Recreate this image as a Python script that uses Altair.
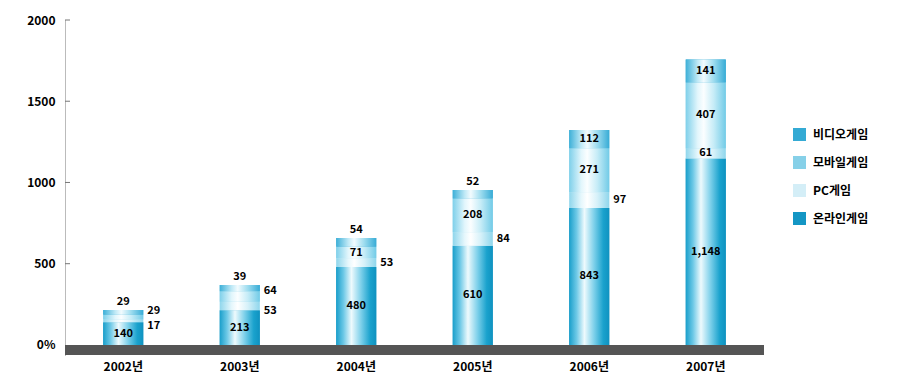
import altair as alt
import pandas as pd

years = ["2002년", "2003년", "2004년", "2005년", "2006년", "2007년"]
series = ["온라인게임", "PC게임", "모바일게임", "비디오게임"]  # bottom -> top
online = [140, 213, 480, 610, 843, 1148]
pc = [17, 53, 53, 84, 97, 61]
mobile = [29, 64, 71, 208, 271, 407]
video = [29, 39, 54, 52, 112, 141]
y_ticks = [0, 500, 1000, 1500, 2000]
legend_order = ["비디오게임", "모바일게임", "PC게임", "온라인게임"]
legend_colors = ["#34aad4", "#86d0e8", "#d4eef7", "#1496c4"]

# label placement style per series and year
placement = {
    "온라인게임": ["in", "in", "in", "in", "in", "in"],
    "PC게임": ["rlow", "rlow", "right", "right", "right", "in"],
    "모바일게임": ["rhigh", "rhigh", "in", "in", "in", "in"],
    "비디오게임": ["top", "top", "top", "top", "in", "in"],
}

vals = {"온라인게임": online, "PC게임": pc, "모바일게임": mobile, "비디오게임": video}
rows = []
for i, yr in enumerate(years):
    cum = 0
    for s in series:
        v = vals[s][i]
        rows.append(dict(year=yr, series=s, value=v, y0=cum, y1=cum + v,
                         mid=cum + v / 2, label=f"{v:,}", pos=placement[s][i]))
        cum += v
df = pd.DataFrame(rows)

FONT = "Noto Sans CJK KR"
yscale = alt.Scale(domain=[-62, 2000], nice=False, zero=False)
xscale = alt.Scale(paddingInner=0, paddingOuter=0)

base = alt.Chart(df)

ground = alt.Chart(pd.DataFrame({"a": [0]})).mark_rect(color="#555555").encode(
    x=alt.value(0), x2=alt.value(699),
    y=alt.Y(datum=0, scale=yscale), y2=alt.Y2(datum=-62))

solid = base.mark_bar(size=40).encode(
    x=alt.X("year:N", scale=xscale, sort=years,
            axis=alt.Axis(title=None, labelAngle=0, domain=False, ticks=False,
                          labelFont=FONT, labelFontSize=12, labelFontWeight="bold",
                          labelColor="#000", labelPadding=6)),
    y=alt.Y("y0:Q", scale=yscale,
            axis=alt.Axis(title=None, values=y_ticks, grid=False, ticks=False,
                          labelExpr="datum.value == 0 ? '0%' : datum.value",
                          labelFont=FONT, labelFontSize=12, labelFontWeight="bold",
                          labelColor="#000", labelPadding=10, domainColor="#777",
                          domainDash=[1, 1])),
    y2="y1:Q",
    color=alt.Color("series:N", scale=alt.Scale(domain=legend_order, range=legend_colors),
                    legend=alt.Legend(title=None, orient="none", legendX=728, legendY=108,
                                      symbolType="square", symbolSize=169,
                                      symbolStrokeWidth=0, labelFont=FONT,
                                      labelFontSize=12, labelFontWeight="bold",
                                      labelColor="#000", rowPadding=15, labelOffset=7)),
)

grads = {
    "온라인게임": [("#1a9fcb", 0), ("#6cc8e6", 0.18), ("#eefafd", 0.38), ("#7dd0ea", 0.62), ("#1aa2cd", 0.85), ("#0f92c0", 1)],
    "PC게임": [("#8fd6ec", 0), ("#e6f7fc", 0.3), ("#ffffff", 0.45), ("#d6f1f9", 0.7), ("#8fd6ec", 1)],
    "모바일게임": [("#7fd0ea", 0), ("#e2f6fc", 0.3), ("#fbfeff", 0.45), ("#c6ecf7", 0.7), ("#72cbe7", 1)],
    "비디오게임": [("#3eb0d8", 0), ("#bfe9f6", 0.3), ("#f2fbfe", 0.45), ("#9ddcef", 0.7), ("#38acd6", 1)],
}
grad_layers = []
for s in series:
    g = alt.Gradient(gradient="linear", x1=0, x2=1, y1=0, y2=0,
                     stops=[alt.GradientStop(color=c, offset=o) for c, o in grads[s]])
    grad_layers.append(
        base.transform_filter(alt.datum.series == s).mark_bar(size=40, color=g).encode(
            x=alt.X("year:N", sort=years, scale=xscale),
            y=alt.Y("y0:Q", scale=yscale), y2="y1:Q"))

ticks = alt.Chart(pd.DataFrame({"t": y_ticks[1:]})).mark_rule(color="#777").encode(
    x=alt.value(0), x2=alt.value(5), y=alt.Y("t:Q", scale=yscale))

def txt(pos, **kw):
    return base.transform_filter(alt.datum.pos == pos).mark_text(
        font=FONT, fontSize=11, fontWeight="bold", color="#000", **kw).encode(
        x=alt.X("year:N", sort=years, scale=xscale),
        y=alt.Y(("y1:Q" if pos == "top" else "mid:Q"), scale=yscale),
        text="label:N")

texts = [
    txt("in", align="center", baseline="middle"),
    txt("top", align="center", baseline="bottom", dy=-3),
    txt("right", align="left", baseline="middle", dx=24),
    txt("rlow", align="left", baseline="middle", dx=24, dy=5),
    txt("rhigh", align="left", baseline="middle", dx=24, dy=-6),
]

chart = alt.layer(solid, *grad_layers, ground, ticks, *texts).properties(
    width=699, height=335,
    autosize=alt.AutoSizeParams(type="none"),
    padding={"left": 65, "top": 20, "right": 139, "bottom": 28},
    background="white",
).configure_view(stroke=None)

chart.save("out.html", embed_options={"renderer": "svg", "actions": False})
